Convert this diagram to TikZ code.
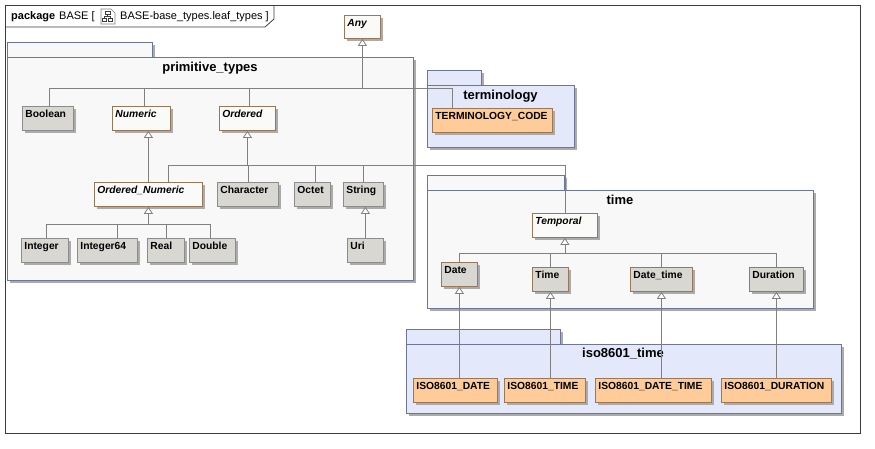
\documentclass[tikz,border=0pt]{standalone}
\usepackage{fontspec}
\setmainfont{Liberation Sans}
\usetikzlibrary{arrows.meta,shadows,calc}
\definecolor{framec}{HTML}{3C3C3C}
\definecolor{shadowgray}{HTML}{ABABAB}
\definecolor{leafgray}{HTML}{D9D7D2}
\definecolor{leafborder}{HTML}{8C8C8C}
\definecolor{brownborder}{HTML}{98785A}
\definecolor{absfill}{HTML}{FAFAF8}
\definecolor{orangefill}{HTML}{FFCC99}
\definecolor{orangeborder}{HTML}{9A7755}
\definecolor{pkgfill}{HTML}{F8F8F8}
\definecolor{pkgblue}{HTML}{E3E8FB}
\definecolor{pkgborder}{HTML}{6D7699}
\definecolor{linegray}{HTML}{808080}
\newcommand\clsfont{\fontsize{10.3}{12}\selectfont\bfseries}
\newcommand\ttlfont{\fontsize{13}{15}\selectfont\bfseries}
\tikzset{
  shad/.style={drop shadow={shadow xshift=3pt,shadow yshift=-3pt,fill=shadowgray,opacity=1}},
  cbase/.style={draw, rectangle, anchor=north west, inner xsep=3pt, inner ysep=3pt,
    text height=8.5pt, text depth=9.5pt, minimum height=24pt, align=left,
    font=\clsfont, line width=0.8pt, shad},
  leaf/.style={cbase, fill=leafgray, draw=leafborder},
  leafb/.style={cbase, fill=leafgray, draw=brownborder},
  absb/.style={cbase, fill=absfill, draw=brownborder, font=\clsfont\itshape},
  term/.style={cbase, fill=orangefill, draw=orangeborder},
  pkgbox/.style={rectangle, draw=pkgborder, line width=0.8pt, anchor=north west, inner sep=0pt, shad},
  ptitle/.style={font=\ttlfont, inner sep=0pt},
  conn/.style={draw=linegray, line width=0.8pt},
  gen/.style={conn, -{Triangle[length=7pt,width=9pt,fill=white]}},
}
\begin{document}
\begin{tikzpicture}[x=1pt,y=-1pt]
\useasboundingbox (0,0) rectangle (875,448);
% frame
\draw[framec, line width=0.8pt, fill=white] (5,5) rectangle (860,433);
\draw[framec, line width=0.8pt] (5,27) -- (265,27) -- (274,19) -- (274,5);
\node[anchor=base west, inner sep=0pt, font=\fontsize{11}{13}\selectfont] (hdrA) at (11,19) {\textbf{package}\hspace{4pt}BASE [};
\node[anchor=base west, inner sep=0pt, font=\fontsize{11}{13}\selectfont] (hdrB) at (120,19) {BASE-base\_types.leaf\_types ]};
% icon
\draw[linegray, line width=0.6pt] (101,9) -- (111,9) -- (115,13) -- (115,24) -- (101,24) -- cycle;
\draw[framec, line width=0.5pt] (105,11) rectangle (110,14);
\draw[framec, line width=0.5pt] (107.5,14) -- (107.5,16) (104.5,16) -- (110.5,16) (104.5,16) -- (104.5,18) (110.5,16) -- (110.5,18);
\draw[framec, line width=0.5pt] (102.5,18) rectangle (106.5,21.5) (108.5,18) rectangle (112.5,21.5);

% packages
\node[pkgbox, fill=pkgfill, minimum width=145pt, minimum height=15pt] (ptTab) at (7,42) {};
\node[pkgbox, fill=pkgfill, minimum width=406pt, minimum height=223pt] (ptBody) at (7,57) {};
\node[ptitle] (ptTitle) at (210,68) {primitive\_types};

\node[pkgbox, fill=pkgblue, minimum width=54pt, minimum height=15pt] (tmTab) at (427,70) {};
\node[pkgbox, fill=pkgblue, minimum width=147pt, minimum height=62pt] (tmBody) at (427,85) {};
\node[ptitle] (tmTitle) at (500.5,96) {terminology};

\node[pkgbox, fill=pkgfill, minimum width=137pt, minimum height=15pt] (tiTab) at (427,175) {};
\node[pkgbox, fill=pkgfill, minimum width=386pt, minimum height=118pt] (tiBody) at (427,190) {};
\node[ptitle] (tiTitle) at (620,200) {time};

\node[pkgbox, fill=pkgblue, minimum width=154pt, minimum height=15pt] (isTab) at (406,329) {};
\node[pkgbox, fill=pkgblue, minimum width=435pt, minimum height=69pt] (isBody) at (406,344) {};
\node[ptitle] (isTitle) at (623,354) {iso8601\_time};

% classes
\node[absb, text width=30pt, minimum height=23pt, text depth=8.5pt] (Any) at (344,15) {Any};
\node[leaf, text width=45pt] (Boolean) at (22,106) {Boolean};
\node[absb, text width=52pt] (Numeric) at (112,106) {Numeric};
\node[absb, text width=50pt] (Ordered) at (219,106) {Ordered};
\node[absb, text width=102pt] (ON) at (94,182) {Ordered\_Numeric};
\node[leaf, text width=55pt] (Character) at (217,182) {Character};
\node[leaf, text width=30pt] (Octet) at (294,182) {Octet};
\node[leaf, text width=34pt] (String) at (343,182) {String};
\node[leaf, text width=41pt] (Integer) at (21,238) {Integer};
\node[leaf, text width=54pt] (Integer64) at (77,238) {Integer64};
\node[leaf, text width=31pt] (Real) at (147,238) {Real};
\node[leaf, text width=40pt] (Double) at (189,238) {Double};
\node[leaf, text width=30pt] (Uri) at (347,238) {Uri};
\node[term, text width=114pt] (TC) at (432,108) {TERMINOLOGY\_CODE};
\node[absb, text width=59pt] (Temporal) at (532,213) {Temporal};
\node[leafb, text width=30pt] (Date) at (441,262) {Date};
\node[leafb, text width=30pt] (Time) at (532,267) {Time};
\node[leafb, text width=56pt] (DateTime) at (630,267) {Date\_time};
\node[leafb, text width=48pt] (Duration) at (749,267) {Duration};
\node[term, text width=78pt] (IDate) at (413,378) {ISO8601\_DATE};
\node[term, text width=75pt] (ITime) at (504,378) {ISO8601\_TIME};
\node[term, text width=110pt] (IDateTime) at (595,378) {ISO8601\_DATE\_TIME};
\node[term, text width=104pt] (IDuration) at (721,378) {ISO8601\_DURATION};

% connectors
\coordinate (jAny) at (Any.south |- 0,88);
\draw[conn] ([xshift=1.5pt]Boolean.north) |- (jAny);
\draw[conn] ([xshift=3pt]Numeric.north) |- (jAny);
\draw[conn] ([xshift=2pt]Ordered.north) |- (jAny);
\draw[conn] ([xshift=-40pt]TC.north) |- (jAny);
\draw[gen] (jAny) -- (Any.south);

\draw[gen] (ON.north) -- (ON.north |- Numeric.south);

\coordinate (jOrd) at (Ordered.south |- 0,165);
\draw[conn] ([xshift=20pt]ON.north) |- (jOrd);
\draw[conn] (Character.north) |- (jOrd);
\draw[conn] ([xshift=3pt]Octet.north) |- (jOrd);
\draw[conn] (String.north) |- (jOrd);
\draw[conn] (Temporal.north) |- (jOrd);
\draw[gen] (jOrd) -- (Ordered.south);

\coordinate (jON) at (ON.south |- 0,224);
\draw[conn] ([xshift=1.5pt]Integer.north) |- (jON);
\draw[conn] ([xshift=10pt]Integer64.north) |- (jON);
\draw[conn] (Real.north) |- (jON);
\draw[conn] ([xshift=-2pt]Double.north) |- (jON);
\draw[gen] (jON) -- (ON.south);

\draw[gen] (Uri.north) -- (Uri.north |- String.south);

\coordinate (jT) at (Temporal.south |- 0,253);
\draw[conn] (Date.north) |- (jT);
\draw[conn] (Time.north) |- (jT);
\draw[conn] (DateTime.north) |- (jT);
\draw[conn] (Duration.north) |- (jT);
\draw[gen] (jT) -- (Temporal.south);

\draw[gen] (Date.south |- IDate.north) -- (Date.south);
\draw[gen] (Time.south |- ITime.north) -- (Time.south);
\draw[gen] (DateTime.south |- IDateTime.north) -- (DateTime.south);
\draw[gen] (Duration.south |- IDuration.north) -- (Duration.south);
\end{tikzpicture}
\end{document}
